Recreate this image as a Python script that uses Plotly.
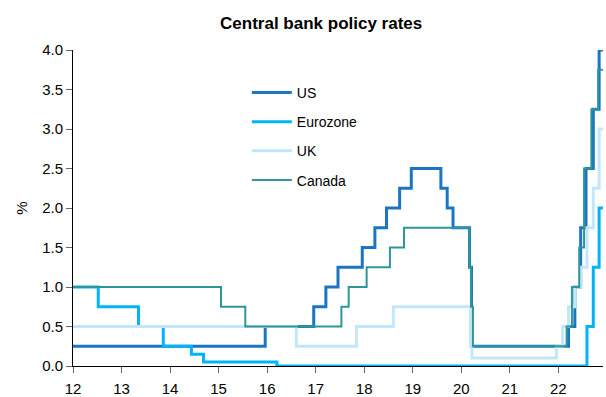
import plotly.graph_objects as go

# Decimal years (12 = 2012) at which each rate took effect, and the rate (%)
us_x = [12.0, 15.96, 16.96, 17.21, 17.46, 17.96, 18.22, 18.46, 18.73, 18.97,
        19.58, 19.71, 19.83, 20.17, 20.21, 22.21, 22.34, 22.46, 22.57, 22.72, 22.84, 22.92]
us_y = [0.25, 0.5, 0.75, 1.0, 1.25, 1.5, 1.75, 2.0, 2.25, 2.5,
        2.25, 2.0, 1.75, 1.25, 0.25, 0.5, 1.0, 1.75, 2.5, 3.25, 4.0, 4.0]

ez_x = [12.0, 12.52, 13.35, 13.86, 14.44, 14.69, 16.20, 22.59, 22.72, 22.84, 22.92]
ez_y = [1.0, 0.75, 0.5, 0.25, 0.15, 0.05, 0.0, 0.5, 1.25, 2.0, 2.0]

uk_x = [12.0, 16.60, 17.84, 18.60, 20.19, 20.22, 21.96, 22.09, 22.21, 22.34,
        22.46, 22.59, 22.72, 22.84, 22.92]
uk_y = [0.5, 0.25, 0.5, 0.75, 0.25, 0.1, 0.25, 0.5, 0.75, 1.0,
        1.25, 1.75, 2.25, 3.0, 3.0]

ca_x = [12.0, 15.05, 15.55, 17.53, 17.68, 18.05, 18.53, 18.82, 20.17, 20.20,
        20.24, 22.17, 22.28, 22.43, 22.53, 22.68, 22.82, 22.92]
ca_y = [1.0, 0.75, 0.5, 0.75, 1.0, 1.25, 1.5, 1.75, 1.25, 0.75,
        0.25, 0.5, 1.0, 1.5, 2.5, 3.25, 3.75, 3.75]

x_ticks = [12, 13, 14, 15, 16, 17, 18, 19, 20, 21, 22]
y_ticks = [0.0, 0.5, 1.0, 1.5, 2.0, 2.5, 3.0, 3.5, 4.0]

series = [
    ("US", us_x, us_y, "#1B75C2", 3),
    ("Eurozone", ez_x, ez_y, "#00B4F5", 3),
    ("UK", uk_x, uk_y, "#C4E6FB", 3),
    ("Canada", ca_x, ca_y, "#2E9699", 2),
]

FONT = "Liberation Sans, Arial, sans-serif"

fig = go.Figure()
for name, xs, ys, col, w in series:
    fig.add_trace(go.Scatter(
        x=xs, y=ys, name=name, mode="lines", line_shape="hv",
        line=dict(color=col, width=w), legendgroup=name,
    ))

fig.update_layout(
    width=606, height=397,
    margin=dict(l=73, r=3, t=50, b=31),
    paper_bgcolor="white", plot_bgcolor="white",
    font=dict(family=FONT, size=15, color="#000"),
    title=dict(text="<b>Central bank policy rates</b>", x=0.53, xanchor="center",
               y=0.942, yanchor="middle", font=dict(size=17)),
    showlegend=True,
    legend=dict(x=0.328, y=0.915, xanchor="left", yanchor="top",
                bgcolor="rgba(0,0,0,0)", tracegroupgap=8,
                font=dict(size=14), itemwidth=40),
)
fig.update_xaxes(
    range=[12, 22.92], tickvals=x_ticks, ticktext=[str(t) for t in x_ticks],
    showgrid=False, zeroline=False, showline=True, linecolor="#000", linewidth=1,
    ticks="outside", ticklen=6, tickcolor="#666", tickfont=dict(size=15),
    ticklabelstandoff=3, automargin=False,
)
fig.update_yaxes(
    range=[0, 4.0], tickvals=y_ticks, tickformat=".1f",
    showgrid=False, zeroline=False, showline=True, linecolor="#000", linewidth=1,
    ticks="outside", ticklen=6, tickcolor="#666", tickfont=dict(size=15),
    title=dict(text="%", standoff=10, font=dict(size=15)), automargin=False,
)

fig.write_html(
    "out.html",
    config={"displayModeBar": False},
    post_script="document.body.style.margin='0';document.body.style.overflow='hidden';",
)
